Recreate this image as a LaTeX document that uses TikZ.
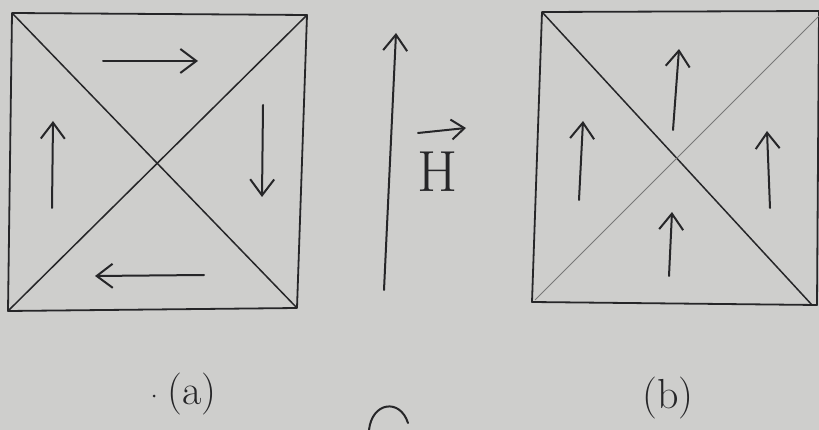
\documentclass[tikz,border=0pt]{standalone}
\usetikzlibrary{arrows.meta}
\definecolor{paper}{RGB}{206,206,204}
\definecolor{ink}{RGB}{38,38,40}
\definecolor{faint}{RGB}{120,120,120}
\tikzset{
  edge/.style={draw=ink, line width=1.8pt, line cap=round, line join=round},
  diag/.style={draw=ink, line width=1.5pt},
  faintdiag/.style={draw=faint, line width=0.9pt},
  field/.style={draw=ink, line width=2pt, line cap=round,
    -{Straight Barb[length=16pt,width=24pt,line width=2pt]}},
  lbl/.style={text=ink, inner sep=0pt, font=\fontsize{42}{46}\selectfont}
}
\begin{document}
\begin{tikzpicture}[x=1pt,y=-1pt]
\useasboundingbox[fill=paper] (0,0) rectangle (819,430);
% ---- panel (a)
\coordinate (aTL) at (12,13);
\coordinate (aTR) at (307,15);
\coordinate (aBR) at (297,308);
\coordinate (aBL) at (8,311);
\draw[edge] (aTL) -- (aTR) -- (aBR) -- (aBL) -- cycle;
\draw[diag] (aTL) -- (aBR);
\draw[diag] (aTR) -- (aBL);
\coordinate (a1s) at (103,61);  \coordinate (a1e) at (198,61);
\coordinate (a2s) at (263,105); \coordinate (a2e) at (262,197);
\coordinate (a3s) at (204,275); \coordinate (a3e) at (95,276);
\coordinate (a4s) at (52,208);  \coordinate (a4e) at (53,121);
\draw[field] (a1s) -- (a1e);
\draw[field] (a2s) -- (a2e);
\draw[field] (a3s) -- (a3e);
\draw[field] (a4s) -- (a4e);
\node[lbl] (la) at (192,394) {(a)};
\fill[ink] (154,396) circle (1.5pt);
% ---- field H
\coordinate (Hs) at (384,290);
\coordinate (He) at (396,33);
\draw[field] (Hs) -- (He);
\node[lbl, font=\fontsize{58}{62}\selectfont] (H) at (438,172) {H};
\coordinate (vs) at (418,133);
\coordinate (ve) at (466,128);
\draw[draw=ink, line width=2pt, line cap=round,
  -{Straight Barb[length=13pt,width=20pt,line width=2pt]}] (vs) -- (ve);
% ---- panel (b)
\coordinate (bTL) at (542,12);
\coordinate (bTR) at (819,11);
\coordinate (bBR) at (817,305);
\coordinate (bBL) at (532,302);
\coordinate (bBRd) at (812,305);
\coordinate (bTRd) at (819,16);
\draw[edge] (bTR) -- (bTL) -- (bBL) -- (bBR) -- (bTR);
\draw[diag] (bTL) -- (bBRd);
\draw[faintdiag] (535,300) -- (bTRd);
\coordinate (b1s) at (673,130); \coordinate (b1e) at (679,49);
\coordinate (b2s) at (579,200); \coordinate (b2e) at (583,121);
\coordinate (b3s) at (770,208); \coordinate (b3e) at (767,131);
\coordinate (b4s) at (669,276); \coordinate (b4e) at (672,212);
\draw[field] (b1s) -- (b1e);
\draw[field] (b2s) -- (b2e);
\draw[field] (b3s) -- (b3e);
\draw[field] (b4s) -- (b4e);
\node[lbl] (lb) at (668,398) {(b)};
% ---- partial arc at bottom
\coordinate (c1) at (369,430);
\coordinate (c2) at (408,423);
\draw[draw=ink, line width=2pt, line cap=round] (c1) .. controls (372,402) and (400,398) .. (c2);
\end{tikzpicture}
\end{document}
